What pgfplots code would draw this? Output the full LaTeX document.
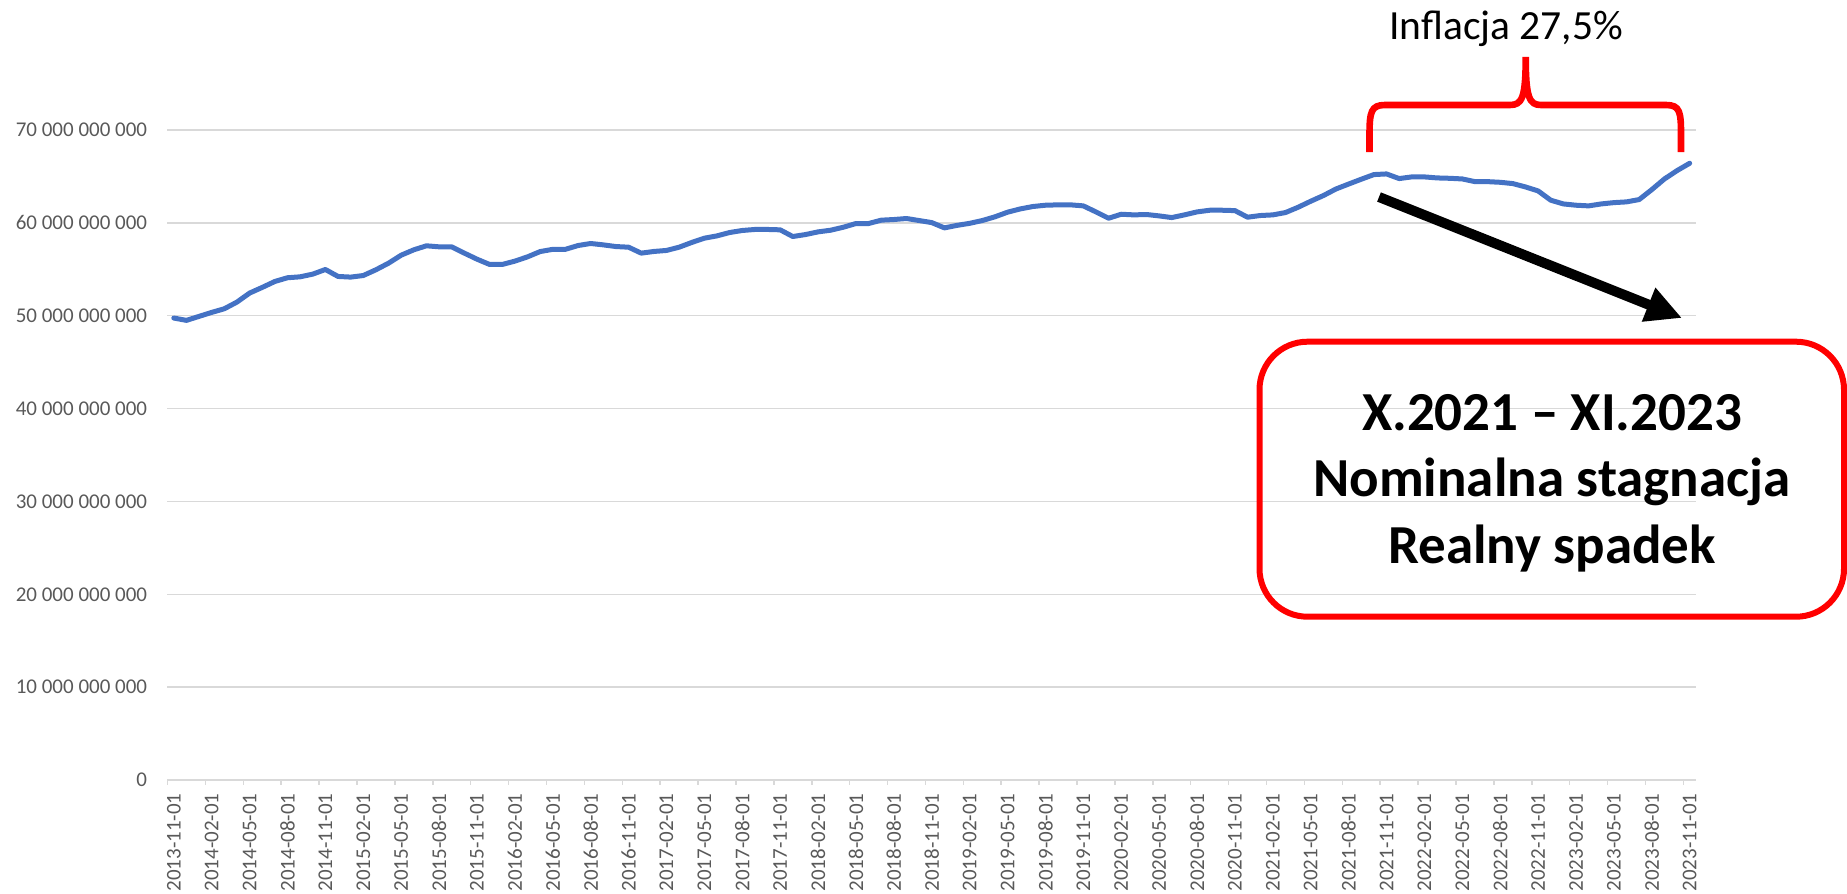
\documentclass[border=0pt]{standalone}
\usepackage{pgfplots}
\pgfplotsset{compat=1.18}
\usepackage{pgfplotstable}
\usepackage{fontspec}
\setmainfont{Carlito}
\usetikzlibrary{arrows.meta}
\definecolor{lineblue}{HTML}{4472C4}
\definecolor{gridgray}{HTML}{D9D9D9}
\definecolor{labelgray}{HTML}{595959}
\definecolor{annred}{HTML}{FF0000}

\pgfplotstableread{
i v
0 49.75
1 49.50
2 49.93
3 50.36
4 50.75
5 51.47
6 52.44
7 53.05
8 53.69
9 54.09
10 54.19
11 54.48
12 54.98
13 54.23
14 54.16
15 54.33
16 54.95
17 55.66
18 56.52
19 57.10
20 57.53
21 57.42
22 57.42
23 56.74
24 56.09
25 55.52
26 55.52
27 55.88
28 56.34
29 56.91
30 57.15
31 57.15
32 57.56
33 57.78
34 57.63
35 57.45
36 57.38
37 56.74
38 56.92
39 57.03
40 57.38
41 57.89
42 58.35
43 58.60
44 58.96
45 59.18
46 59.29
47 59.29
48 59.25
49 58.53
50 58.74
51 59.03
52 59.21
53 59.53
54 59.93
55 59.93
56 60.29
57 60.36
58 60.47
59 60.25
60 60.03
61 59.46
62 59.73
63 59.95
64 60.25
65 60.65
66 61.15
67 61.50
68 61.76
69 61.90
70 61.94
71 61.94
72 61.83
73 61.18
74 60.50
75 60.93
76 60.86
77 60.90
78 60.75
79 60.57
80 60.86
81 61.18
82 61.36
83 61.36
84 61.32
85 60.61
86 60.79
87 60.86
88 61.11
89 61.68
90 62.33
91 62.94
92 63.65
93 64.18
94 64.70
95 65.20
96 65.27
97 64.77
98 64.95
99 64.95
100 64.84
101 64.80
102 64.73
103 64.44
104 64.44
105 64.37
106 64.23
107 63.87
108 63.44
109 62.44
110 62.04
111 61.90
112 61.83
113 62.04
114 62.18
115 62.26
116 62.51
117 63.58
118 64.73
119 65.63
120 66.42
}\datatable

\begin{document}
\begin{tikzpicture}
\path[use as bounding box] (0,0) rectangle (923.5pt,-447pt);
\begin{axis}[
  at={(83.75pt,-390pt)}, anchor=south west,
  scale only axis, width=764.25pt, height=325pt,
  xmin=-0.5, xmax=120.5, ymin=0, ymax=70,
  axis line style={draw=none},
  ymajorgrids=true,
  grid style={gridgray, line width=0.75pt},
  ytick={0,10,...,70},
  yticklabels={0,10 000 000 000,20 000 000 000,30 000 000 000,40 000 000 000,50 000 000 000,60 000 000 000,70 000 000 000},
  xtick={0,3,...,120},
  xticklabels={2013-11-01,2014-02-01,2014-05-01,2014-08-01,2014-11-01,2015-02-01,2015-05-01,2015-08-01,2015-11-01,2016-02-01,2016-05-01,2016-08-01,2016-11-01,2017-02-01,2017-05-01,2017-08-01,2017-11-01,2018-02-01,2018-05-01,2018-08-01,2018-11-01,2019-02-01,2019-05-01,2019-08-01,2019-11-01,2020-02-01,2020-05-01,2020-08-01,2020-11-01,2021-02-01,2021-05-01,2021-08-01,2021-11-01,2022-02-01,2022-05-01,2022-08-01,2022-11-01,2023-02-01,2023-05-01,2023-08-01,2023-11-01},
  minor xtick={-0.5,2.5,...,119.5},
  major tick length=0pt,
  minor tick length=2.25pt,
  tick align=outside,
  tick pos=left,
  major tick style={draw=none},
  minor x tick style={gridgray, line width=0.75pt},
  minor y tick num=0,
  ticklabel style={font=\fontsize{10.5pt}{12pt}\selectfont, text=labelgray},
  xticklabel style={rotate=90, anchor=east, inner xsep=6.5pt, inner ysep=0pt},
  yticklabel style={anchor=east, inner xsep=10pt, inner ysep=0pt},
  clip=false,
]
\addplot[lineblue, line width=2.5pt, line join=round, line cap=round] table[x=i, y=v] {\datatable};
\end{axis}
\begin{scope}[x=0.5pt, y=-0.5pt]
  % brace
  \draw[annred, line width=3.3pt] (1369.5,152) -- (1369.5,135)
    .. controls (1369.5,112) and (1371,105) .. (1385,105) -- (1510,105)
    .. controls (1522,105) and (1525.7,98) .. (1525.7,57)
    .. controls (1525.7,98) and (1529.4,105) .. (1541,105) -- (1666,105)
    .. controls (1680,105) and (1681,112) .. (1681,135) -- (1681,152);
  \node[anchor=base, inner sep=0pt, font=\fontsize{20.75pt}{24pt}\selectfont] at (1506,39.5) {Inflacja 27,5\%};
  % arrow
  \draw[black, line width=5pt, -{Triangle[length=18pt, width=17pt]}] (1379,197) -- (1682,318);
  % box
  \draw[annred, line width=3pt, rounded corners=24pt] (1259.5,341.7) rectangle (1844,616.7);
  \node[anchor=base, inner sep=0pt, font=\bfseries\fontsize{27.5pt}{33pt}\selectfont] at (1552,430) {X.2021 – XI.2023};
  \node[anchor=base, inner sep=0pt, font=\bfseries\fontsize{27.5pt}{33pt}\selectfont] at (1552,496.7) {Nominalna stagnacja};
  \node[anchor=base, inner sep=0pt, font=\bfseries\fontsize{27.5pt}{33pt}\selectfont] at (1552,563.3) {Realny spadek};
\end{scope}
\end{tikzpicture}
\end{document}
